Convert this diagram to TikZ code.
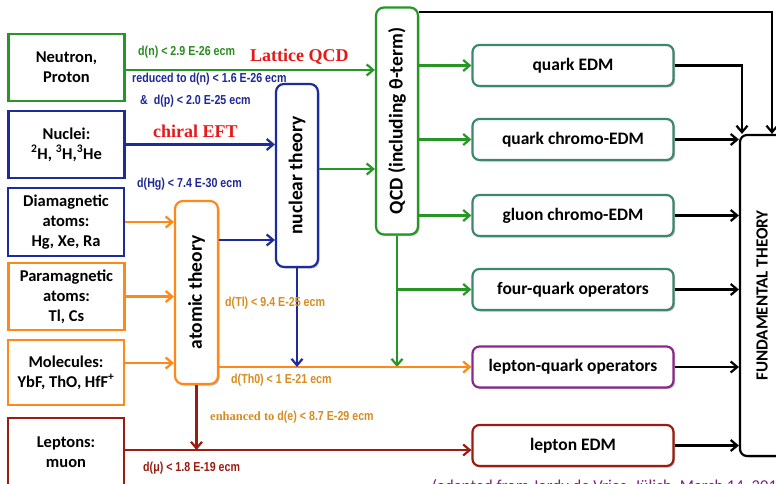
\documentclass[tikz,border=0pt]{standalone}
\usepackage{fontspec}
\setmainfont{Carlito}
\newfontfamily\lblfont[FakeStretch=0.82]{Liberation Sans}
\newfontfamily\titlefont{Liberation Serif}
\usetikzlibrary{arrows.meta,shadows}

\definecolor{cgreen}{RGB}{38,150,38}
\definecolor{cblue}{RGB}{28,44,156}
\definecolor{corange}{RGB}{255,136,24}
\definecolor{cteal}{RGB}{60,136,108}
\definecolor{cpurple}{RGB}{140,40,140}
\definecolor{cdred}{RGB}{155,28,16}
\definecolor{cgold}{RGB}{215,140,30}
\definecolor{cnavy}{RGB}{30,40,150}
\definecolor{cred}{RGB}{232,24,24}
\definecolor{cgreenlbl}{RGB}{40,140,30}
\definecolor{ccite}{RGB}{130,30,130}

\tikzset{
  shade box/.style={drop shadow={shadow xshift=1.5pt, shadow yshift=-1.5pt, opacity=0.25, fill=black}},
  srcbox/.style={draw, line width=2.4pt, fill=white, inner sep=0pt, align=center,
    minimum width=116pt, font=\fontsize{16.5}{20}\selectfont\bfseries},
  theorybox/.style={draw, line width=2.2pt, rounded corners=8pt, fill=white, shade box, inner sep=0pt},
  theorytext/.style={rotate=90, inner sep=0pt, font=\fontsize{19.5}{22}\selectfont\bfseries},
  opbox/.style={draw, line width=2.2pt, rounded corners=7pt, fill=white, shade box, inner sep=0pt,
    minimum width=201pt, minimum height=41pt, font=\fontsize{17.5}{20}\selectfont\bfseries},
  link/.style={line width=2.2pt, -{Straight Barb[length=6.5pt,width=11pt]}},
  lbl/.style={inner sep=0pt, anchor=west, font=\lblfont\bfseries\fontsize{13}{15}\selectfont},
  method/.style={inner sep=0pt, anchor=west, text=cred, font=\titlefont\bfseries\fontsize{18}{20}\selectfont},
}

\begin{document}
\begin{tikzpicture}[x=1pt,y=-1pt]
\useasboundingbox (0,0) rectangle (776,484);
\clip (0,0) rectangle (776,484);
\fill[white] (0,0) rectangle (776,484);

% row heights used by the connectors
\coordinate (yNeutron) at (0,70);
\coordinate (yAtNuc) at (0,240);
\coordinate (yNucQcd) at (0,169);
\coordinate (yMol) at (0,363);
\coordinate (yLep) at (0,450);
\coordinate (yTop) at (0,12);
\coordinate (xFtA) at (742,0);
\coordinate (xFtB) at (772,0);

% experimental systems
\node[srcbox, draw=cgreen, minimum height=67pt] (np) at (66.5,67.5) {Neutron,\\Proton};
\node[srcbox, draw=cblue, minimum height=67pt] (nuc) at (66.5,144.5)
  {Nuclei:\\\textsuperscript{2}H, \textsuperscript{3}H,\textsuperscript{3}He};
\node[srcbox, draw=cblue, minimum height=68pt] (dia) at (66,222) {Diamagnetic\\atoms:\\Hg, Xe, Ra};
\node[srcbox, draw=corange, minimum height=67pt] (para) at (66.5,296.5) {Paramagnetic\\atoms:\\Tl, Cs};
\node[srcbox, draw=corange, minimum height=65pt] (mol) at (66,372.5) {Molecules:\\YbF, ThO, HfF\textsuperscript{+}};
\node[srcbox, draw=cdred, minimum height=68pt] (lep) at (66,452) {Leptons:\\muon};

% theory layers
\node[theorybox, draw=corange, minimum width=43pt, minimum height=183pt] (atomic) at (196.5,292.5) {};
\node[theorytext] at (atomic) {atomic theory};
\node[theorybox, draw=cblue, minimum width=42pt, minimum height=183pt] (nuclear) at (297,175.5) {};
\node[theorytext] at (nuclear) {nuclear theory};
\node[theorybox, draw=cgreen, minimum width=42pt, minimum height=227pt] (qcd) at (397,121) {};
\node[theorytext] at (qcd) {QCD (including θ-term)};

% effective operators
\node[opbox, draw=cteal] (qe) at (573,65.5) {quark EDM};
\node[opbox, draw=cteal] (qc) at (573,139.5) {quark chromo-EDM};
\node[opbox, draw=cteal] (gc) at (573,215.5) {gluon chromo-EDM};
\node[opbox, draw=cteal] (fq) at (573,289.5) {four-quark operators};
\node[opbox, draw=cpurple] (lq) at (573,367) {lepton-quark operators};
\node[opbox, draw=cdred] (le) at (573,445.5) {lepton EDM};

% fundamental theory
\node[draw, line width=2.2pt, rounded corners=7pt, fill=white, shade box, inner sep=0pt,
  minimum width=44pt, minimum height=321pt] (ft) at (762,295.5) {};
\node[rotate=90, inner sep=0pt, font=\fontsize{17}{20}\selectfont\bfseries] at (ft) {FUNDAMENTAL THEORY};

% connectors into the theory layers
\draw[link, cgreen] (np.east |- yNeutron) -- (qcd.west |- yNeutron);
\draw[link, cblue] (nuc.east) -- (nuc.east -| nuclear.west);
\draw[link, corange] (dia.east) -- (dia.east -| atomic.west);
\draw[link, corange] (para.east) -- (para.east -| atomic.west);
\draw[link, corange] (mol.east |- yMol) -- (atomic.west |- yMol);
\draw[link, cblue] (atomic.east |- yAtNuc) -- (nuclear.west |- yAtNuc);
\draw[link, cgreen] (nuclear.east |- yNucQcd) -- (qcd.west |- yNucQcd);

% connectors into the operators
\draw[link, cgreen] (qcd.east |- qe.west) -- (qe.west);
\draw[link, cgreen] (qcd.east |- qc.west) -- (qc.west);
\draw[link, cgreen] (qcd.east |- gc.west) -- (gc.west);
\draw[link, cgreen] (qcd.south) -- (qcd.south |- lq.west);
\draw[link, cgreen] (qcd.south |- fq.west) -- (fq.west);
\draw[link, corange] (atomic.east |- lq.west) -- (lq.west);
\draw[link, cblue] (nuclear.south) -- (nuclear.south |- lq.west);
\draw[link, cdred] (lep.east |- yLep) -- (le.west |- yLep);
\draw[link, cdred] (atomic.south) -- (atomic.south |- yLep);

% connectors into the fundamental theory
\draw[link, black] (qe.east) -| (xFtA |- ft.north);
\draw[link, black] (qcd.east |- yTop) -| (xFtB |- ft.north);
\draw[link, black] (qc.east) -- (qc.east -| ft.west);
\draw[link, black] (gc.east) -- (gc.east -| ft.west);
\draw[link, black] (fq.east) -- (fq.east -| ft.west);
\draw[link, black] (lq.east) -- (lq.east -| ft.west);
\draw[link, black] (le.east) -- (le.east -| ft.west);

% limits and methods
\node[lbl, text=cgreenlbl] (l1) at (138,52.5) {d(n) < 2.9 E-26 ecm};
\node[method] (m1) at (250,57) {Lattice QCD};
\node[lbl, text=cnavy] (l2) at (132,79.5) {reduced to d(n) < 1.6 E-26 ecm};
\node[lbl, text=cnavy] (l3) at (140,101.5) {\&\ \ d(p) < 2.0 E-25 ecm};
\node[method] (m2) at (153,131) {chiral EFT};
\node[lbl, text=cnavy] (l4) at (137,184) {d(Hg) < 7.4 E-30 ecm};
\node[lbl, text=cgold] (l5) at (225,303) {d(Tl) < 9.4 E-25 ecm};
\node[lbl, text=cgold] (l6) at (231,380) {d(Th0) < 1 E-21 ecm};
\node[lbl, text=cgold] (l7) at (210,417)
  {{\titlefont\bfseries\fontsize{12.5}{15}\selectfont enhanced to} d(e) < 8.7 E-29 ecm};
\node[lbl, text=cdred] (l8) at (143,468.5) {d(μ) < 1.8 E-19 ecm};

% source note along the lower edge
\node[anchor=north west, inner sep=0pt, text=ccite, font=\fontsize{16.6}{18}\selectfont] (cite) at (432,479.5)
  {(adapted from Jordy de Vries, Jülich, March 14, 2014)};
\end{tikzpicture}
\end{document}
